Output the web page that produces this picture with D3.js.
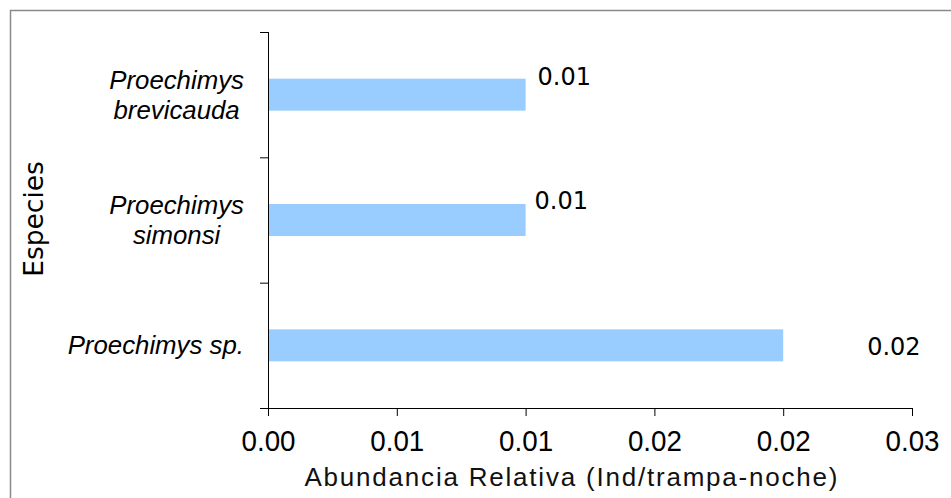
<!DOCTYPE html>
<html>
<head>
<meta charset="utf-8">
<script src="https://cdn.jsdelivr.net/npm/d3@7"></script>
<style>
  html, body { margin: 0; padding: 0; background: #fff; }
  svg { display: block; }
</style>
</head>
<body>
<svg id="chart" width="951" height="498"></svg>
<script>
// Species (top to bottom) and relative abundance (individuals / trap-night)
const species = [
  ["Proechimys", "brevicauda"],
  ["Proechimys", "simonsi"],
  ["Proechimys sp."]
];
const abundance = [0.01, 0.01, 0.02];
const valueLabels = ["0.01", "0.01", "0.02"];

// X axis ticks and their printed labels
const xTickValues = [0, 0.005, 0.01, 0.015, 0.02, 0.025];
const xTickLabels = ["0.00", "0.01", "0.01", "0.02", "0.02", "0.03"];

const xTitle = "Abundancia Relativa (Ind/trampa-noche)";
const yTitle = "Especies";

const svg = d3.select("#chart");
const plot = { left: 268, right: 912, top: 32, bottom: 408 };
const axisFont = "'Liberation Sans', Arial, sans-serif";

// frame around the chart area
svg.append("rect")
  .attr("x", 10.5).attr("y", 10.5)
  .attr("width", 960).attr("height", 520)
  .attr("fill", "none")
  .attr("stroke", "#8a8a8a")
  .attr("stroke-width", 1.5);

const x = d3.scaleLinear()
  .domain([0, 0.025])
  .range([plot.left, plot.right]);

const y = d3.scaleBand()
  .domain(d3.range(species.length))
  .range([plot.top, plot.bottom])
  .paddingInner(0.745)
  .paddingOuter(0.3725);

// category boundaries for the vertical axis ticks
const yEdges = d3.scaleLinear()
  .domain([0, species.length])
  .range([plot.top, plot.bottom]);

// bars
svg.append("g")
  .selectAll("rect")
  .data(abundance)
  .join("rect")
  .attr("x", x(0))
  .attr("y", (d, i) => y(i))
  .attr("width", d => x(d) - x(0))
  .attr("height", y.bandwidth())
  .attr("fill", "#99ccff");

// X axis
const xAxis = svg.append("g")
  .attr("transform", `translate(0,${plot.bottom})`)
  .call(d3.axisBottom(x)
    .tickValues(xTickValues)
    .tickFormat((d, i) => xTickLabels[i])
    .tickSize(8)
    .tickSizeOuter(0));
xAxis.select(".domain").attr("d", `M${plot.left - 8},0.5H${plot.right}`);
xAxis.selectAll("line").attr("stroke", "#000");
xAxis.selectAll("text")
  .attr("y", 43)
  .attr("dy", null)
  .attr("font-family", axisFont)
  .attr("font-size", 30)
  .attr("textLength", 54)
  .attr("lengthAdjust", "spacingAndGlyphs")
  .attr("fill", "#000");

// Y axis: ticks mark the edges between categories
const yAxis = svg.append("g")
  .attr("transform", `translate(${plot.left},0)`)
  .call(d3.axisLeft(yEdges)
    .ticks(species.length)
    .tickFormat("")
    .tickSize(8)
    .tickSizeOuter(0));
yAxis.select(".domain").attr("d", `M0.5,${plot.top}V${plot.bottom + 8}`);
yAxis.selectAll("line").attr("stroke", "#000");

// category labels: right-aligned block, lines centred within it
const catFont = 25.8;
const labelRight = 244;
const catGroups = svg.append("g")
  .attr("font-family", "'Liberation Sans', Arial, sans-serif")
  .attr("font-style", "italic")
  .attr("font-size", catFont)
  .attr("fill", "#000")
  .selectAll("text")
  .data(species)
  .join("text")
  .attr("text-anchor", "middle");

catGroups.each(function (lines, i) {
  const t = d3.select(this);
  const cy = y(i) + y.bandwidth() / 2;
  const lineGap = 30;
  const first = cy - (lines.length - 1) * lineGap / 2 + 9;
  lines.forEach((s, k) => {
    t.append("tspan").attr("y", first + k * lineGap).text(s);
  });
  let w = 0;
  t.selectAll("tspan").each(function () { w = Math.max(w, this.getComputedTextLength()); });
  t.selectAll("tspan").attr("x", labelRight - w / 2);
});

// value labels beside each bar
const labelNudge = [[12, -10], [9, -11], [84, 10]];
svg.append("g")
  .attr("font-family", "'DejaVu Sans', sans-serif")
  .attr("font-size", 24)
  .attr("fill", "#000")
  .selectAll("text")
  .data(abundance)
  .join("text")
  .attr("x", (d, i) => x(d) + labelNudge[i][0])
  .attr("y", (d, i) => y(i) + y.bandwidth() / 2 + labelNudge[i][1])
  .text((d, i) => valueLabels[i]);

// axis titles
svg.append("text")
  .attr("x", 571)
  .attr("y", 486)
  .attr("text-anchor", "middle")
  .attr("font-family", axisFont)
  .attr("font-size", 26)
  .attr("textLength", 533)
  .attr("lengthAdjust", "spacing")
  .attr("fill", "#111")
  .text(xTitle);

svg.append("text")
  .attr("transform", "translate(43,219) rotate(-90)")
  .attr("text-anchor", "middle")
  .attr("font-family", "'DejaVu Sans', sans-serif")
  .attr("font-size", 26.5)
  .attr("fill", "#000")
  .text(yTitle);
</script>
</body>
</html>
